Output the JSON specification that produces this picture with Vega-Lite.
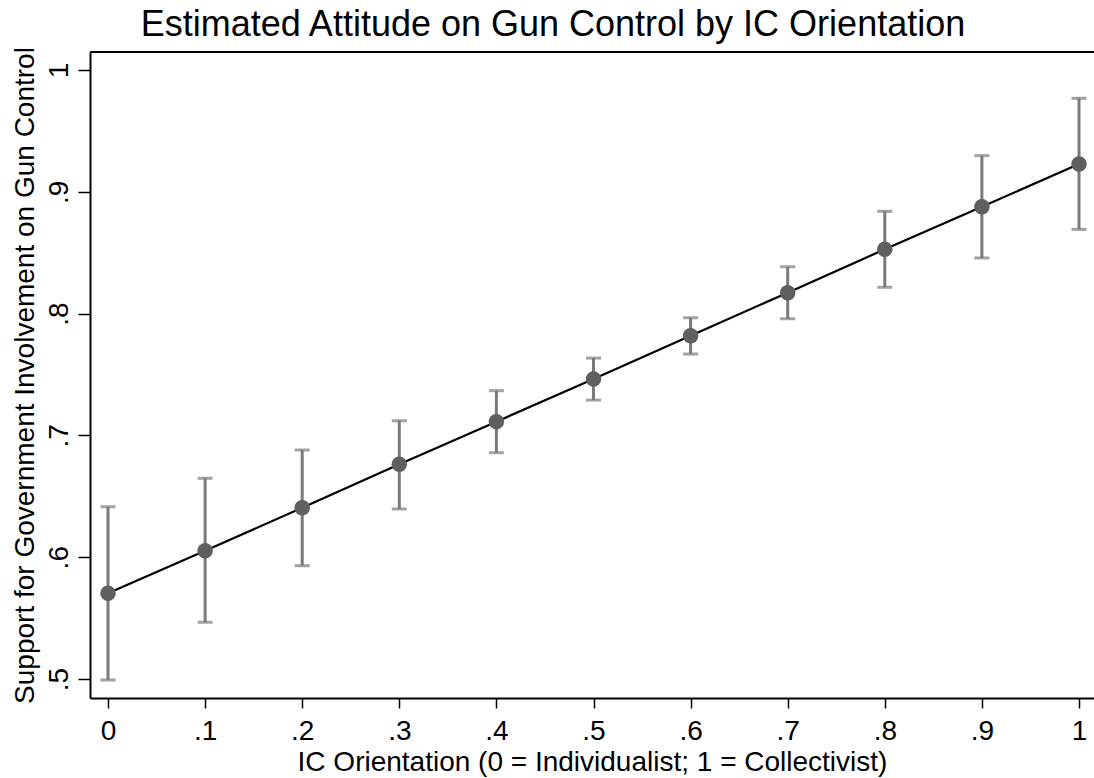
{
  "$schema": "https://vega.github.io/schema/vega-lite/v6.json",
  "autosize": "none",
  "width": 1004,
  "height": 646,
  "padding": {"left": 90, "top": 52, "right": 0, "bottom": 80},
  "background": "white",
  "config": {
    "font": "Liberation Sans",
    "view": {"stroke": null},
    "axis": {"grid": false, "domainColor": "black", "domainWidth": 2, "tickColor": "black", "tickWidth": 1.5, "labelColor": "black", "titleColor": "black", "labelFont": "Liberation Sans", "titleFont": "Liberation Sans", "titleFontWeight": "normal"}
  },
  "title": {"text": "Estimated Attitude on Gun Control by IC Orientation", "fontSize": 36, "fontWeight": "normal", "font": "Liberation Sans", "color": "black", "anchor": "middle", "frame": "bounds", "offset": 3},
  "data": {"values": [
    {"x": 0.0, "est": 0.5704, "lo": 0.4992, "hi": 0.6415},
    {"x": 0.1, "est": 0.6053, "lo": 0.5466, "hi": 0.6648},
    {"x": 0.2, "est": 0.6406, "lo": 0.5930, "hi": 0.6880},
    {"x": 0.3, "est": 0.6763, "lo": 0.6396, "hi": 0.7120},
    {"x": 0.4, "est": 0.7113, "lo": 0.6858, "hi": 0.7367},
    {"x": 0.5, "est": 0.7463, "lo": 0.7290, "hi": 0.7635},
    {"x": 0.6, "est": 0.7819, "lo": 0.7668, "hi": 0.7966},
    {"x": 0.7, "est": 0.8172, "lo": 0.7958, "hi": 0.8385},
    {"x": 0.8, "est": 0.8528, "lo": 0.8216, "hi": 0.8840},
    {"x": 0.9, "est": 0.8878, "lo": 0.8457, "hi": 0.9297},
    {"x": 1.0, "est": 0.9228, "lo": 0.8692, "hi": 0.9768}
  ]},
  "layer": [
    {
      "mark": {"type": "errorbar", "ticks": {"size": 15, "thickness": 3, "color": "#7a7a7a"}, "thickness": 3, "color": "#7a7a7a"},
      "encoding": {
        "x": {"field": "x", "type": "quantitative",
          "scale": {"domain": [-0.01854, 1.01545], "nice": false, "zero": false},
          "axis": {"title": "IC Orientation (0 = Individualist; 1 = Collectivist)", "values": [0, 0.1, 0.2, 0.3, 0.4, 0.5, 0.6, 0.7, 0.8, 0.9, 1], "labelExpr": "datum.value == 0 ? '0' : datum.value == 1 ? '1' : replace(format(datum.value, '.1f'), '0.', '.')", "labelFontSize": 28, "titleFontSize": 28, "tickSize": 10, "labelPadding": 9, "titlePadding": 3, "labelFlush": false}
        },
        "y": {"field": "lo", "type": "quantitative",
          "scale": {"domain": [0.4844, 1.0148], "nice": false, "zero": false},
          "axis": {"title": "Support for Government Involvement on Gun Control", "values": [0.5, 0.6, 0.7, 0.8, 0.9, 1], "labelExpr": "datum.value == 1 ? '1' : replace(format(datum.value, '.1f'), '0.', '.')", "labelAngle": -90, "labelAlign": "center", "labelBaseline": "alphabetic", "labelFontSize": 28, "titleFontSize": 28, "tickSize": 12, "labelPadding": 11, "titlePadding": 6, "labelFlush": false}
        },
        "y2": {"field": "hi"}
      }
    },
    {
      "mark": {"type": "line", "color": "black", "strokeWidth": 2.2},
      "encoding": {
        "x": {"field": "x", "type": "quantitative"},
        "y": {"field": "est", "type": "quantitative"}
      }
    },
    {
      "mark": {"type": "point", "filled": true, "shape": "circle", "size": 240, "color": "#5f5f5f", "opacity": 1},
      "encoding": {
        "x": {"field": "x", "type": "quantitative"},
        "y": {"field": "est", "type": "quantitative"}
      }
    },
    {
      "mark": {"type": "rule", "color": "black", "strokeWidth": 2},
      "encoding": {"y": {"datum": 1.0148, "type": "quantitative"}}
    }
  ]
}
